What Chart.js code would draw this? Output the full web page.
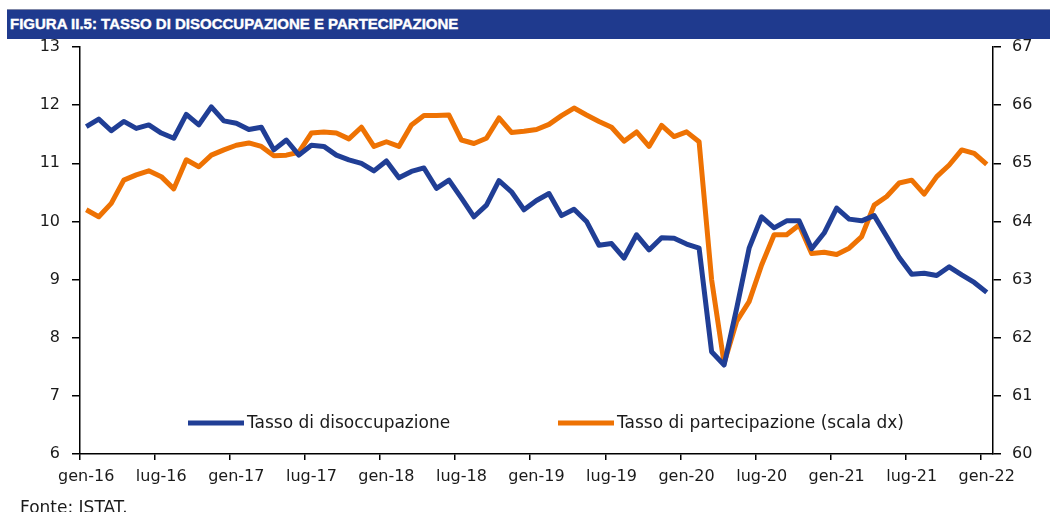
<!DOCTYPE html>
<html>
<head>
<meta charset="utf-8">
<script src="https://cdn.jsdelivr.net/npm/chart.js@4.4.1/dist/chart.umd.min.js"></script>
<style>
  html, body { margin: 0; padding: 0; background: #fff; }
  #wrap { position: relative; width: 1050px; height: 512px; overflow: hidden; }
  #header {
    position: absolute; left: 7px; top: 9px; width: 1043px; height: 30px;
    background: #1f3a8e; border-top: 1px solid #7f87a8; box-sizing: border-box;
    color: #fff; font-family: "Liberation Sans", Arial, sans-serif; font-weight: bold;
    font-size: 15px; line-height: 27px; padding-left: 3px;
    -webkit-text-stroke: 0.4px #fff;
  }
  #source {
    position: absolute; left: 20px; top: 497px;
    font-family: "DejaVu Sans", sans-serif; font-size: 17px; color: #1a1a1a;
  }
  #chartBox { position: absolute; left: 0; top: 0; width: 1050px; height: 512px; }
</style>
</head>
<body>
<div id="wrap">
  <div id="chartBox"><canvas id="lavoroChart"></canvas></div>
  <div id="header">FIGURA II.5: TASSO DI DISOCCUPAZIONE E PARTECIPAZIONE</div>
  <div id="source">Fonte: ISTAT.</div>
</div>
<script>
// Mesi da gen-16 a gen-22
const months = [
  'gen-16','feb-16','mar-16','apr-16','mag-16','giu-16','lug-16','ago-16','set-16','ott-16','nov-16','dic-16',
  'gen-17','feb-17','mar-17','apr-17','mag-17','giu-17','lug-17','ago-17','set-17','ott-17','nov-17','dic-17',
  'gen-18','feb-18','mar-18','apr-18','mag-18','giu-18','lug-18','ago-18','set-18','ott-18','nov-18','dic-18',
  'gen-19','feb-19','mar-19','apr-19','mag-19','giu-19','lug-19','ago-19','set-19','ott-19','nov-19','dic-19',
  'gen-20','feb-20','mar-20','apr-20','mag-20','giu-20','lug-20','ago-20','set-20','ott-20','nov-20','dic-20',
  'gen-21','feb-21','mar-21','apr-21','mag-21','giu-21','lug-21','ago-21','set-21','ott-21','nov-21','dic-21',
  'gen-22'
];

// Tasso di disoccupazione (scala sx)
const disoccupazione = [
  11.63, 11.76, 11.56, 11.72, 11.60, 11.66, 11.52, 11.43, 11.84, 11.66, 11.97, 11.73,
  11.69, 11.58, 11.62, 11.23, 11.40, 11.14, 11.31, 11.29, 11.14, 11.06, 11.00, 10.87,
  11.04, 10.75, 10.86, 10.92, 10.57, 10.71, 10.40, 10.08, 10.28, 10.70, 10.51, 10.20,
  10.36, 10.48, 10.10, 10.21, 10.00, 9.59, 9.62, 9.37, 9.77, 9.51, 9.72, 9.71,
  9.61, 9.54, 7.76, 7.53, 8.50, 9.54, 10.08, 9.89, 10.01, 10.01, 9.53, 9.80,
  10.23, 10.04, 10.01, 10.10, 9.74, 9.38, 9.09, 9.11, 9.07, 9.22, 9.08, 8.95,
  8.78
];

// Tasso di partecipazione (scala dx)
const partecipazione = [
  64.20, 64.08, 64.31, 64.71, 64.80, 64.87, 64.77, 64.56, 65.06, 64.94, 65.14, 65.23,
  65.31, 65.35, 65.29, 65.13, 65.14, 65.19, 65.52, 65.54, 65.52, 65.42, 65.62, 65.29,
  65.37, 65.29, 65.66, 65.82, 65.82, 65.83, 65.40, 65.34, 65.43, 65.78, 65.53, 65.55,
  65.58, 65.67, 65.82, 65.95, 65.83, 65.72, 65.62, 65.38, 65.54, 65.29, 65.65, 65.46,
  65.54, 65.37, 63.00, 61.56, 62.28, 62.62, 63.25, 63.77, 63.77, 63.94, 63.45, 63.47,
  63.43, 63.54, 63.74, 64.28, 64.43, 64.66, 64.71, 64.47, 64.77, 64.97, 65.23, 65.17,
  64.98
];

const seriesNames = ['Tasso di disoccupazione', 'Tasso di partecipazione (scala dx)'];

const BLUE = '#203e95';
const ORANGE = '#ee7203';
const TEXT = '#1a1a1a';
const tickFont = { family: 'DejaVu Sans', size: 16 };

// Legenda disegnata dentro l'area del grafico, come nell'originale
const innerLegend = {
  id: 'innerLegend',
  afterDraw(chart) {
    const { ctx, chartArea } = chart;
    const y = chartArea.bottom - 31;
    const items = [
      { x: chartArea.left + 108, ds: chart.data.datasets[0] },
      { x: chartArea.left + 478, ds: chart.data.datasets[1] }
    ];
    ctx.save();
    ctx.font = '17px "DejaVu Sans"';
    ctx.textBaseline = 'middle';
    items.forEach(it => {
      ctx.fillStyle = it.ds.borderColor;
      ctx.fillRect(it.x, y - 2.5, 56, 5);
      ctx.fillStyle = TEXT;
      ctx.fillText(it.ds.label, it.x + 59, y + 1);
    });
    ctx.restore();
  }
};

const ctx = document.getElementById('lavoroChart').getContext('2d');
const chart = new Chart(ctx, {
  type: 'line',
  data: {
    labels: months,
    datasets: [
      {
        label: seriesNames[0],
        data: disoccupazione,
        borderColor: BLUE,
        backgroundColor: BLUE,
        borderWidth: 5,
        borderJoinStyle: 'round',
        pointRadius: 0,
        tension: 0,
        yAxisID: 'y'
      },
      {
        label: seriesNames[1],
        data: partecipazione,
        borderColor: ORANGE,
        backgroundColor: ORANGE,
        borderWidth: 5,
        borderJoinStyle: 'round',
        pointRadius: 0,
        tension: 0,
        yAxisID: 'y1'
      }
    ]
  },
  options: {
    responsive: true,
    maintainAspectRatio: false,
    animation: false,
    layout: { padding: { top: 47, bottom: 28, left: 0, right: 0 } },
    plugins: {
      legend: { display: false },
      tooltip: { enabled: false }
    },
    scales: {
      x: {
        offset: true,
        border: { display: true, color: '#000', width: 1.5 },
        grid: {
          offset: true,
          drawOnChartArea: false,
          drawTicks: true,
          tickLength: 6,
          lineWidth: 1.5,
          color: c => (c.index % 6 === 0 ? '#000' : 'rgba(0,0,0,0)')
        },
        ticks: {
          autoSkip: false,
          maxRotation: 0,
          padding: 7,
          color: TEXT,
          font: tickFont,
          callback: function(val, i) { return i % 6 === 0 ? months[i] : ''; }
        },
        afterFit: s => { s.height = 30; }
      },
      y: {
        position: 'left',
        min: 6,
        max: 13,
        border: { display: true, color: '#000', width: 1.5 },
        grid: { drawOnChartArea: false, tickLength: 8, color: '#000', lineWidth: 1.5 },
        ticks: { stepSize: 1, padding: 12, color: TEXT, font: tickFont },
        afterFit: s => { s.width = 80; }
      },
      y1: {
        position: 'right',
        min: 60,
        max: 67,
        border: { display: true, color: '#000', width: 1.5 },
        grid: { drawOnChartArea: false, tickLength: 8, color: '#000', lineWidth: 1.5 },
        ticks: { stepSize: 1, padding: 11, color: TEXT, font: tickFont },
        afterFit: s => { s.width = 57; }
      }
    }
  },
  plugins: [innerLegend]
});
</script>
</body>
</html>
